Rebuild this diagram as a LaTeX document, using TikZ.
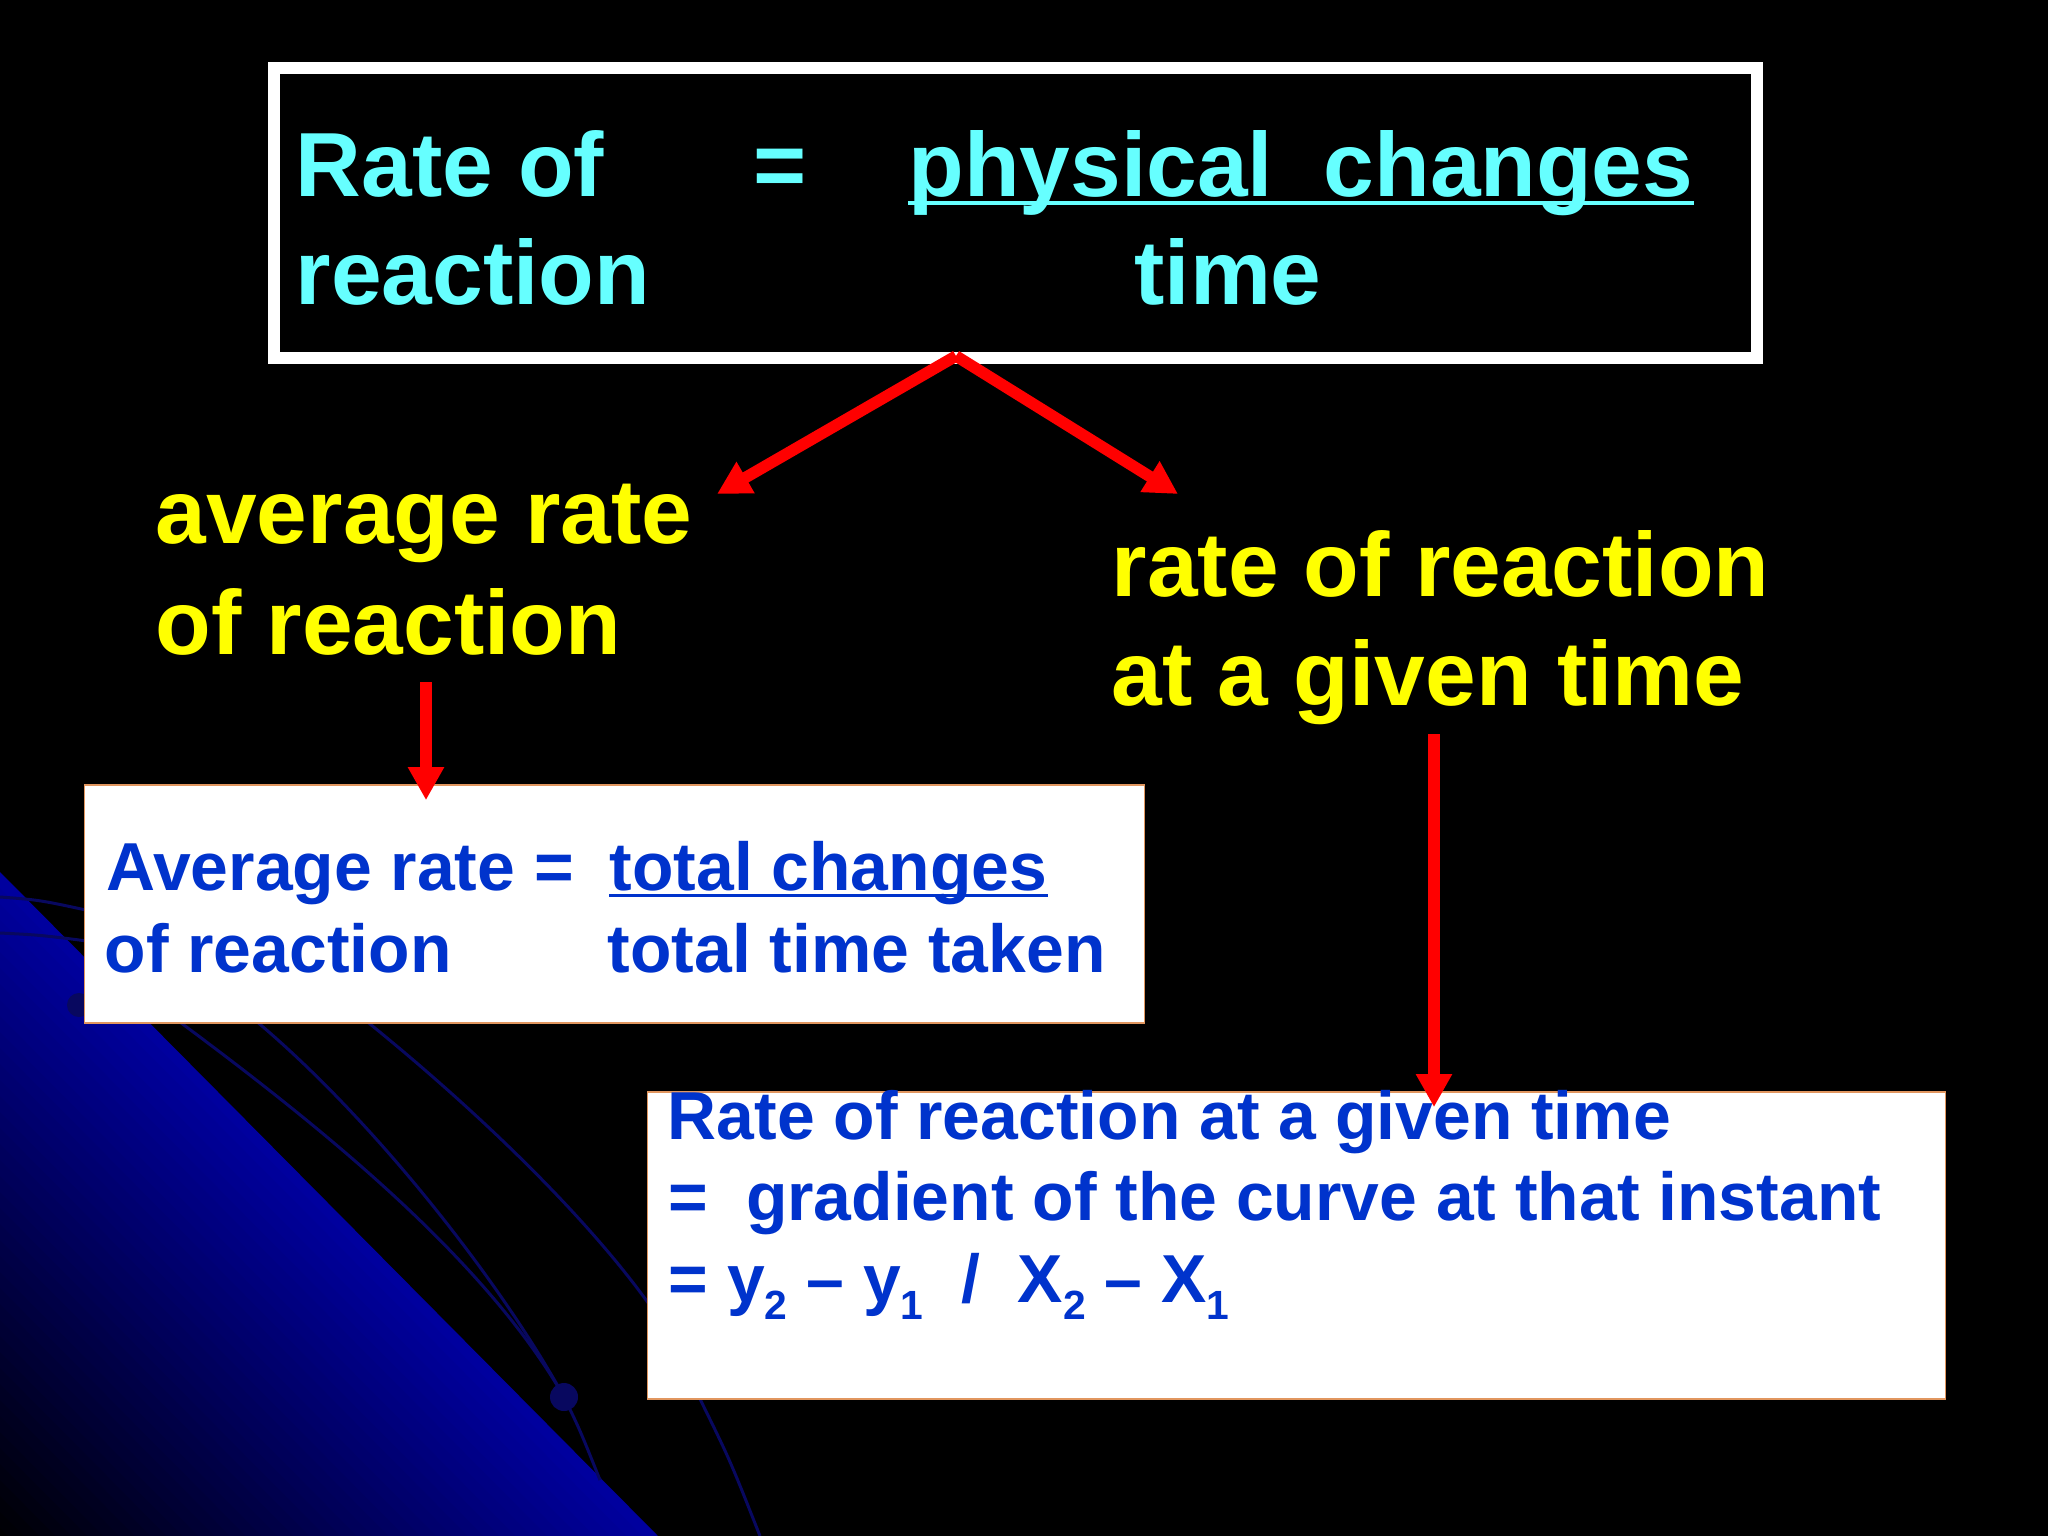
\documentclass[tikz,border=0pt]{standalone}
\usepackage{fontspec}
\setmainfont{Liberation Sans}
\usetikzlibrary{arrows.meta,calc}
\definecolor{cyantext}{RGB}{102,255,255}
\definecolor{yellowtext}{RGB}{255,255,0}
\definecolor{bluetext}{RGB}{0,51,204}
\definecolor{arrowred}{RGB}{255,0,0}
\definecolor{swoosh}{RGB}{0,0,158}
\definecolor{swooshline}{RGB}{8,8,95}
\definecolor{boxedge}{RGB}{225,150,95}
\newcommand\bigfont{\fontsize{25.9}{30.7}\selectfont\bfseries}
\newcommand\boxfont{\fontsize{19.3}{23.2}\selectfont\bfseries}
\newcommand\lowsub[1]{\raisebox{-5pt}{\fontsize{11.6}{12}\selectfont #1}}
\tikzset{
  txt/.style={inner sep=0pt, anchor=base west},
  ctxt/.style={inner sep=0pt, anchor=base},
  redarrow/.style={draw=arrowred, line width=0.115cm,
    -{Triangle[width=0.34cm,length=0.33cm]}},
  whitebox/.style={fill=white, draw=boxedge, line width=0.015cm, inner sep=0pt}
}
\begin{document}
\begin{tikzpicture}[x=0.01cm, y=-0.01cm]
  \path[use as bounding box] (0,0) rectangle (2048,1536);
  \fill[black] (0,0) rectangle (2048,1536);
  % blue swoosh in the corner, fading to black
  \foreach \k in {0,16,...,656} {
    \pgfmathsetmacro\pct{100-\k/6.64}
    \fill[swoosh!\pct!black] (0,872+\k) -- (658-0.991*\k,1536)
      -- (658-0.991*\k-17,1536) -- (0,872+\k+17) -- cycle;
  }
  \begin{scope}[draw=swooshline, line width=0.03cm]
    \draw (0,897) .. controls (40,900) .. (95,912);
    \draw (0,933) .. controls (40,935) .. (95,942);
    \draw (150,1000) .. controls (300,1110) and (480,1250) .. (564,1397) .. controls (580,1430) .. (600,1480);
    \draw (230,1000) .. controls (360,1100) and (500,1280) .. (564,1397);
    \draw (340,1000) .. controls (480,1110) and (600,1230) .. (660,1320);
    \draw (700,1399) .. controls (730,1460) .. (760,1536);
    \fill[swooshline] (564,1397) circle (14);
    \fill[swooshline] (79,1005) circle (12);
  \end{scope}
  % boxes
  \node[draw=white, fill=black, line width=0.12cm, minimum width=14.83cm, minimum height=2.90cm]
    (defbox) at (1015.5,213) {};
  \node[whitebox, minimum width=10.59cm, minimum height=2.38cm] (avgbox) at (614.5,904) {};
  \node[whitebox, minimum width=12.97cm, minimum height=3.07cm] (instbox) at (1296.5,1245.5) {};
  % definition
  \begin{scope}[font=\bigfont, text=cyantext]
    \node[txt] (rate1) at (295,196) {Rate of};
    \node[txt] (rate2) at (295,304) {reaction};
    \node[ctxt] (eq) at (780,196) {=};
    \node[ctxt] (phys) at (1301,196) {physical\ \ changes};
    \node[ctxt] (time) at (1228,304) {time};
  \end{scope}
  \draw[cyantext, line width=0.04cm] ([yshift=-2pt]phys.base west) -- ([yshift=-2pt]phys.base east);
  % two kinds of rate
  \begin{scope}[font=\bigfont, text=yellowtext]
    \node[txt] (avg1) at (155,543) {average rate};
    \node[txt] (avg2) at (155,654) {of reaction};
    \node[txt] (inst1) at (1111,596) {rate of reaction};
    \node[txt] (inst2) at (1111,705) {at a given time};
  \end{scope}
  \begin{scope}[font=\boxfont, text=bluetext]
    \node[txt] (avgname1) at (106,890) {Average rate =};
    \node[txt] (avgname2) at (104,972) {of reaction};
    \node[txt] (avgnum) at (609,890) {total changes};
    \node[txt] (avgden) at (607,972) {total time taken};
    \node[txt] (inst3) at (667,1139) {Rate of reaction at a given time};
    \node[txt] (inst4) at (668,1220) {=\ \ gradient of the curve at that instant};
    \node[txt] (inst5) at (668,1302) {= y\lowsub{2} – y\lowsub{1}\ \ /\ \ X\lowsub{2} – X\lowsub{1}};
  \end{scope}
  \draw[bluetext, line width=0.03cm] ([yshift=-1.7pt]avgnum.base west) -- ([yshift=-1.7pt]avgnum.base east);
  % arrows
  \coordinate (fork) at (956,356);
  \coordinate (avgtip) at (717,494);
  \coordinate (insttip) at (1178,494);
  \coordinate (avgstart) at (426,682);
  \coordinate (inststart) at (1434,734);
  \draw[redarrow] (fork) -- (avgtip);
  \draw[redarrow] (fork) -- (insttip);
  \draw[redarrow] (avgstart) -- ($(avgstart |- avgbox.north)+(0,16)$);
  \draw[redarrow] (inststart) -- ($(inststart |- instbox.north)+(0,16)$);
\end{tikzpicture}
\end{document}
